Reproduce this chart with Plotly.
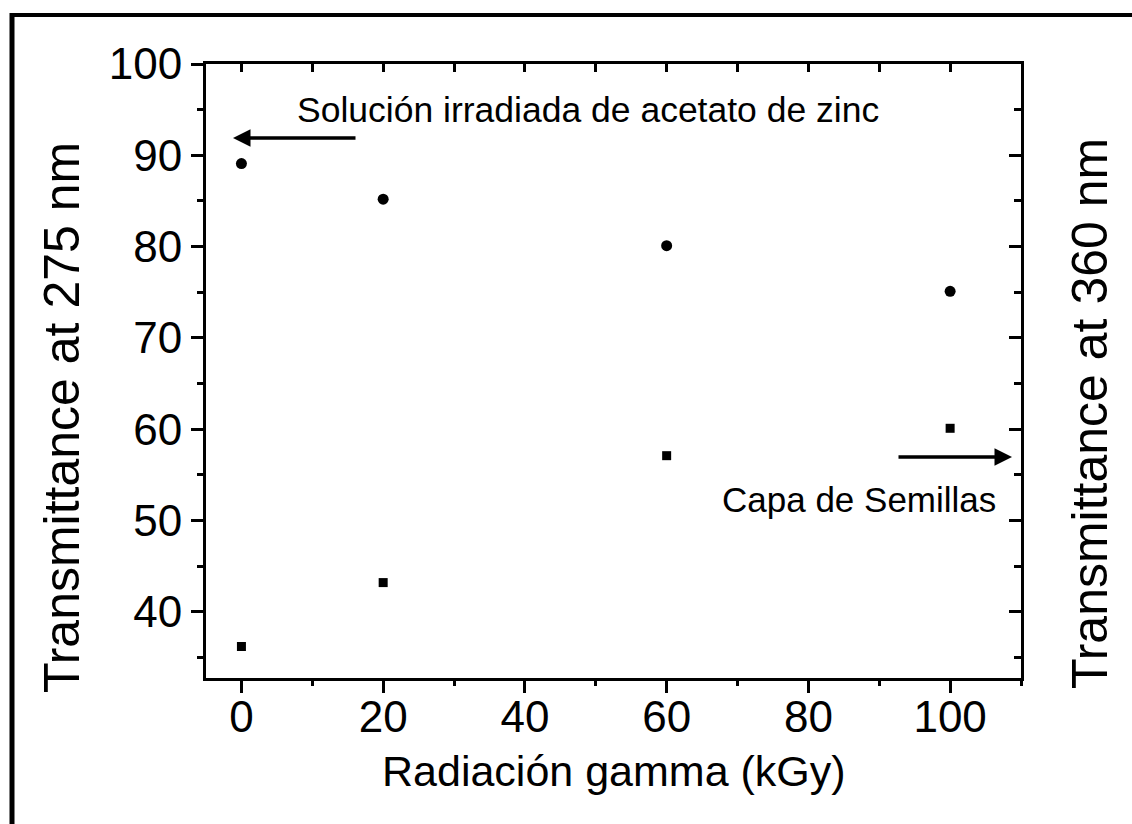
import plotly.graph_objects as go

# ---- data ----
dose_kgy = [0, 20, 60, 100]
trans_275 = [89.1, 85.2, 80.1, 75.1]      # Solución irradiada de acetato de zinc (left axis)
trans_360 = [36.2, 43.2, 57.1, 60.1]      # Capa de Semillas (right axis)
x_ticks = [0, 20, 40, 60, 80, 100]
y_ticks = [40, 50, 60, 70, 80, 90, 100]

# ---- layout geometry (pixels) ----
W_FIG, H_FIG = 1132, 824
L, R, T, B = 206, 111, 64, 146
PW, PH = W_FIG - L - R, H_FIG - T - B

def px_x(px):
    return (px - L) / PW

def px_y(py):
    return (H_FIG - B - py) / PH

FONT = "Arial, 'Liberation Sans', sans-serif"
X_RANGE = [-5, 110]
Y_RANGE = [32.75, 100]

fig = go.Figure()
fig.add_trace(go.Scatter(
    x=dose_kgy, y=trans_275, mode="markers", xaxis="x", yaxis="y",
    marker=dict(symbol="circle", size=11, color="black"),
    name="Solución irradiada de acetato de zinc", showlegend=False))
fig.add_trace(go.Scatter(
    x=dose_kgy, y=trans_360, mode="markers", xaxis="x2", yaxis="y2",
    marker=dict(symbol="square", size=9, color="black"),
    name="Capa de Semillas", showlegend=False))

axis_common = dict(showgrid=False, zeroline=False, showline=True,
                   linecolor="black", linewidth=3, tickcolor="black",
                   tickwidth=3)

fig.update_layout(
    width=W_FIG, height=H_FIG,
    margin=dict(l=L, r=R, t=T, b=B),
    paper_bgcolor="white", plot_bgcolor="white",
    font=dict(family=FONT, color="black"),
    xaxis=dict(range=X_RANGE, tickvals=x_ticks, ticks="outside", ticklen=12,
               tickfont=dict(size=44, family=FONT), ticklabelstandoff=-14,
               minor=dict(dtick=10, tick0=0, ticks="outside", ticklen=5,
                          tickwidth=3, tickcolor="black"),
               **axis_common),
    xaxis2=dict(range=X_RANGE, overlaying="x", side="top", ticks="inside",
                dtick=10, tick0=0, ticklen=8, showticklabels=False,
                **axis_common),
    yaxis=dict(range=Y_RANGE, tickvals=y_ticks, ticks="outside", ticklen=12,
               tickfont=dict(size=44, family=FONT),
               minor=dict(dtick=5, tick0=0, ticks="outside", ticklen=6,
                          tickwidth=3, tickcolor="black"),
               **axis_common),
    yaxis2=dict(range=Y_RANGE, overlaying="y", side="right", ticks="inside",
                tickvals=y_ticks, ticklen=12, showticklabels=False,
                minor=dict(dtick=5, tick0=0, ticks="inside", ticklen=7,
                           tickwidth=3, tickcolor="black"),
                **axis_common),
)

# axis titles
fig.add_annotation(text="Transmittance at 275 nm", xref="paper", yref="paper",
                   x=px_x(62), y=px_y(418), textangle=-90, showarrow=False,
                   font=dict(size=50, family=FONT), xanchor="center", yanchor="middle")
fig.add_annotation(text="Transmittance at 360 nm", xref="paper", yref="paper",
                   x=px_x(1090), y=px_y(414), textangle=-90, showarrow=False,
                   font=dict(size=50, family=FONT), xanchor="center", yanchor="middle")
fig.add_annotation(text="Radiación gamma (kGy)", xref="paper", yref="paper",
                   x=px_x(614), y=px_y(771), showarrow=False,
                   font=dict(size=43, family=FONT), xanchor="center", yanchor="middle")

# series labels with arrows
fig.add_annotation(text="Solución irradiada de acetato de zinc", xref="paper", yref="paper",
                   x=px_x(588), y=px_y(110), showarrow=False,
                   font=dict(size=35.5, family=FONT), xanchor="center", yanchor="middle")
fig.add_annotation(x=px_x(233), y=px_y(138), ax=357 - 233, ay=0,
                   xref="paper", yref="paper", axref="pixel", ayref="pixel",
                   text="", showarrow=True, arrowhead=2, arrowsize=1,
                   arrowwidth=3.5, arrowcolor="black")
fig.add_annotation(text="Capa de Semillas", xref="paper", yref="paper",
                   x=px_x(859), y=px_y(499), showarrow=False,
                   font=dict(size=35, family=FONT), xanchor="center", yanchor="middle")
fig.add_annotation(x=px_x(1012), y=px_y(457), ax=897 - 1012, ay=0,
                   xref="paper", yref="paper", axref="pixel", ayref="pixel",
                   text="", showarrow=True, arrowhead=2, arrowsize=1,
                   arrowwidth=3.5, arrowcolor="black")

# page frame (left and top borders)
fig.add_shape(type="line", xref="paper", yref="paper",
              x0=px_x(12), x1=px_x(12), y0=px_y(13), y1=px_y(H_FIG),
              line=dict(color="black", width=5))
fig.add_shape(type="line", xref="paper", yref="paper",
              x0=px_x(10), x1=px_x(W_FIG), y0=px_y(15), y1=px_y(15),
              line=dict(color="black", width=4))

fig.write_html("out.html", config={"displayModeBar": False},
               post_script="document.body.style.margin='0';document.body.style.overflow='hidden';")
